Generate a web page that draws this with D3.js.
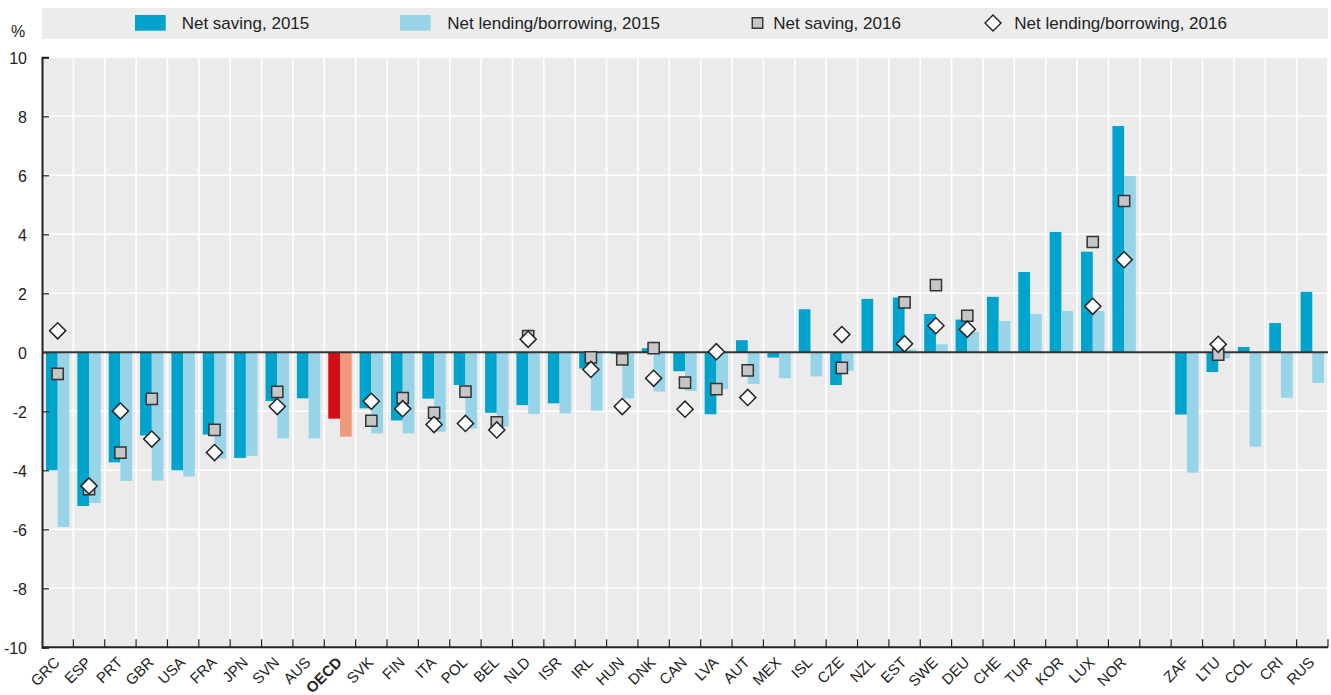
<!DOCTYPE html>
<html><head><meta charset="utf-8">
<script src="https://cdn.jsdelivr.net/npm/d3@7"></script>
<style>
body{margin:0;background:#fff;}
svg{display:block;font-family:"Liberation Sans Narrow","Arial Narrow","Liberation Sans",sans-serif;}
</style></head>
<body><svg id="c" width="1331" height="695"></svg>
<script>
const categories = ["GRC","ESP","PRT","GBR","USA","FRA","JPN","SVN","AUS","OECD","SVK","FIN","ITA","POL","BEL","NLD","ISR","IRL","HUN","DNK","CAN","LVA","AUT","MEX","ISL","CZE","NZL","EST","SWE","DEU","CHE","TUR","KOR","LUX","NOR","","ZAF","LTU","COL","CRI","RUS"];
const saving2015 = [-4.0,-5.21,-3.73,-2.82,-4.0,-2.79,-3.58,-1.65,-1.56,-2.25,-1.9,-2.31,-1.57,-1.11,-2.05,-1.79,-1.73,-0.55,-0.05,0.14,-0.64,-2.1,0.41,-0.18,1.46,-1.11,1.81,1.86,1.3,1.11,1.88,2.72,4.08,3.41,7.67,null,-2.11,-0.67,0.18,0.99,2.05];
const lending2015 = [-5.92,-5.11,-4.36,-4.35,-4.21,-3.6,-3.51,-2.92,-2.92,-2.86,-2.75,-2.75,-2.69,-2.58,-2.52,-2.09,-2.07,-1.98,-1.56,-1.33,-1.31,-1.25,-1.07,-0.88,-0.82,-0.63,null,0.1,0.27,0.69,1.06,1.3,1.4,1.4,5.98,null,-4.08,-0.21,-3.2,-1.54,-1.04];
const saving2016 = [-0.73,-4.64,-3.4,-1.58,null,-2.63,null,-1.34,null,null,-2.32,-1.55,-2.05,-1.33,-2.37,0.55,null,-0.17,-0.24,0.14,-1.03,-1.25,-0.61,null,null,-0.53,null,1.69,2.28,1.24,null,null,null,3.74,5.13,null,null,-0.08,null,null,null];
const lending2016 = [0.73,-4.53,-1.99,-2.94,null,-3.4,null,-1.84,null,null,-1.66,-1.91,-2.45,-2.41,-2.63,0.44,null,-0.58,-1.84,-0.88,-1.93,0.02,-1.53,null,null,0.6,null,0.29,0.9,0.78,null,null,null,1.56,3.14,null,null,0.27,null,null,null];
const yTicks = [-10,-8,-6,-4,-2,0,2,4,6,8,10];
const seriesNames = ["Net saving, 2015","Net lending/borrowing, 2015","Net saving, 2016","Net lending/borrowing, 2016"];
const highlight = "OECD";

const svg = d3.select("#c");
const L = 42, R = 1328, T = 57.3, B = 647.3;
const C = {dark:"#00a3cc", light:"#97d4e7", red:"#d60d17", salmon:"#f19a7b", bg:"#ebebeb", sq:"#c6c6c6"};

const x = d3.scaleBand().domain(categories.map((c,i)=>i)).range([L,R]).padding(0);
const x1 = d3.scaleBand().domain(["s","l"]).range([0,x.bandwidth()]).paddingInner(0).paddingOuter(0.34);
const y = d3.scaleLinear().domain([-10,10]).range([B,T]);

// legend
svg.append("rect").attr("x",L).attr("y",8).attr("width",R-L).attr("height",30.7).attr("fill","#ececec");
svg.append("text").attr("x",18).attr("y",37).attr("text-anchor","middle").attr("font-size",16).attr("fill","#222").text("%");
const lg = svg.append("g").attr("font-size",17).attr("fill","#222");
lg.append("rect").attr("x",135).attr("y",15).attr("width",30.7).attr("height",15.7).attr("fill",C.dark);
lg.append("text").attr("x",181.7).attr("y",29).text(seriesNames[0]);
lg.append("rect").attr("x",400).attr("y",15).attr("width",30.7).attr("height",15.7).attr("fill",C.light);
lg.append("text").attr("x",447.3).attr("y",29).text(seriesNames[1]);
lg.append("path").attr("d",d3.symbol(d3.symbolSquare,110)()).attr("transform","translate(757.5,23)").attr("fill",C.sq).attr("stroke","#333").attr("stroke-width",1.4);
lg.append("text").attr("x",773.3).attr("y",29).text(seriesNames[2]);
lg.append("path").attr("d",d3.symbol(d3.symbolSquare,128)()).attr("transform","translate(993,23) rotate(45)").attr("fill","#fff").attr("stroke","#222").attr("stroke-width",1.4);
lg.append("text").attr("x",1014.3).attr("y",29).text(seriesNames[3]);

// plot background
svg.append("rect").attr("x",L).attr("y",T).attr("width",R-L).attr("height",B-T).attr("fill",C.bg);
// grid
const g = svg.append("g");
g.selectAll("line.h").data(yTicks).join("line").attr("class","h")
  .attr("x1",L).attr("x2",R).attr("y1",d=>y(d)).attr("y2",d=>y(d)).attr("stroke","#fff").attr("stroke-width",1.6);
const bounds = categories.map((c,i)=>x(i)).concat([R]).slice(1);
g.selectAll("line.v").data(bounds).join("line").attr("class","v")
  .attr("x1",d=>d).attr("x2",d=>d).attr("y1",T).attr("y2",B).attr("stroke","#fff").attr("stroke-width",1.6);

// bars
const idx = categories.map((c,i)=>i);
function bars(vals,key,col,hcol){
  svg.append("g").selectAll("rect").data(idx.filter(i=>vals[i]!==null)).join("rect")
    .attr("x",i=>x(i)+x1(key)).attr("width",x1.bandwidth())
    .attr("y",i=>y(Math.max(0,vals[i]))).attr("height",i=>Math.abs(y(vals[i])-y(0)))
    .attr("fill",i=>categories[i]===highlight?hcol:col);
}
bars(saving2015,"s",C.dark,C.red);
bars(lending2015,"l",C.light,C.salmon);

// axes
const yAxis = d3.axisLeft(y).tickValues(yTicks).tickSize(-7).tickPadding(15).tickFormat(d=>String(d));
const ya = svg.append("g").attr("transform",`translate(${L},0)`).call(yAxis);
ya.select(".domain").attr("stroke","#222").attr("stroke-width",2);
ya.selectAll(".tick line").attr("stroke","#222").attr("stroke-width",1.2);
ya.selectAll(".tick text").attr("font-size",16).attr("fill","#222").attr("font-family",null).attr("dy","0.36em");

const xAxis = d3.axisBottom(x).tickSize(0).tickFormat(i=>categories[i]);
const xa = svg.append("g").attr("transform",`translate(0,${B})`).call(xAxis);
xa.select(".domain").remove();
xa.selectAll(".tick text").attr("font-size",15).attr("fill","#222").attr("font-family",null)
  .attr("text-anchor","end").attr("y",0).attr("dy",0).attr("transform","translate(3,16) rotate(-45)")
  .attr("font-weight",i=>categories[i]===highlight?"bold":"normal");
// bottom ticks at band boundaries
svg.append("g").selectAll("line").data(bounds).join("line")
  .attr("x1",d=>d).attr("x2",d=>d).attr("y1",B).attr("y2",B-8).attr("stroke","#222").attr("stroke-width",1.2);
svg.append("line").attr("x1",L).attr("x2",R).attr("y1",B).attr("y2",B).attr("stroke","#222").attr("stroke-width",2);
// zero line
svg.append("line").attr("x1",L).attr("x2",R).attr("y1",y(0)).attr("y2",y(0)).attr("stroke","#333").attr("stroke-width",2);

// markers
const cx = i=>x(i)+x.bandwidth()/2;
svg.append("g").selectAll("path").data(idx.filter(i=>saving2016[i]!==null)).join("path")
  .attr("d",d3.symbol(d3.symbolSquare,125)()).attr("transform",i=>`translate(${cx(i)},${y(saving2016[i])})`)
  .attr("fill",C.sq).attr("stroke","#333").attr("stroke-width",1.5);
svg.append("g").selectAll("path").data(idx.filter(i=>lending2016[i]!==null)).join("path")
  .attr("d",d3.symbol(d3.symbolSquare,130)()).attr("transform",i=>`translate(${cx(i)},${y(lending2016[i])}) rotate(45)`)
  .attr("fill","#fff").attr("stroke","#222").attr("stroke-width",1.5);
</script></body></html>
